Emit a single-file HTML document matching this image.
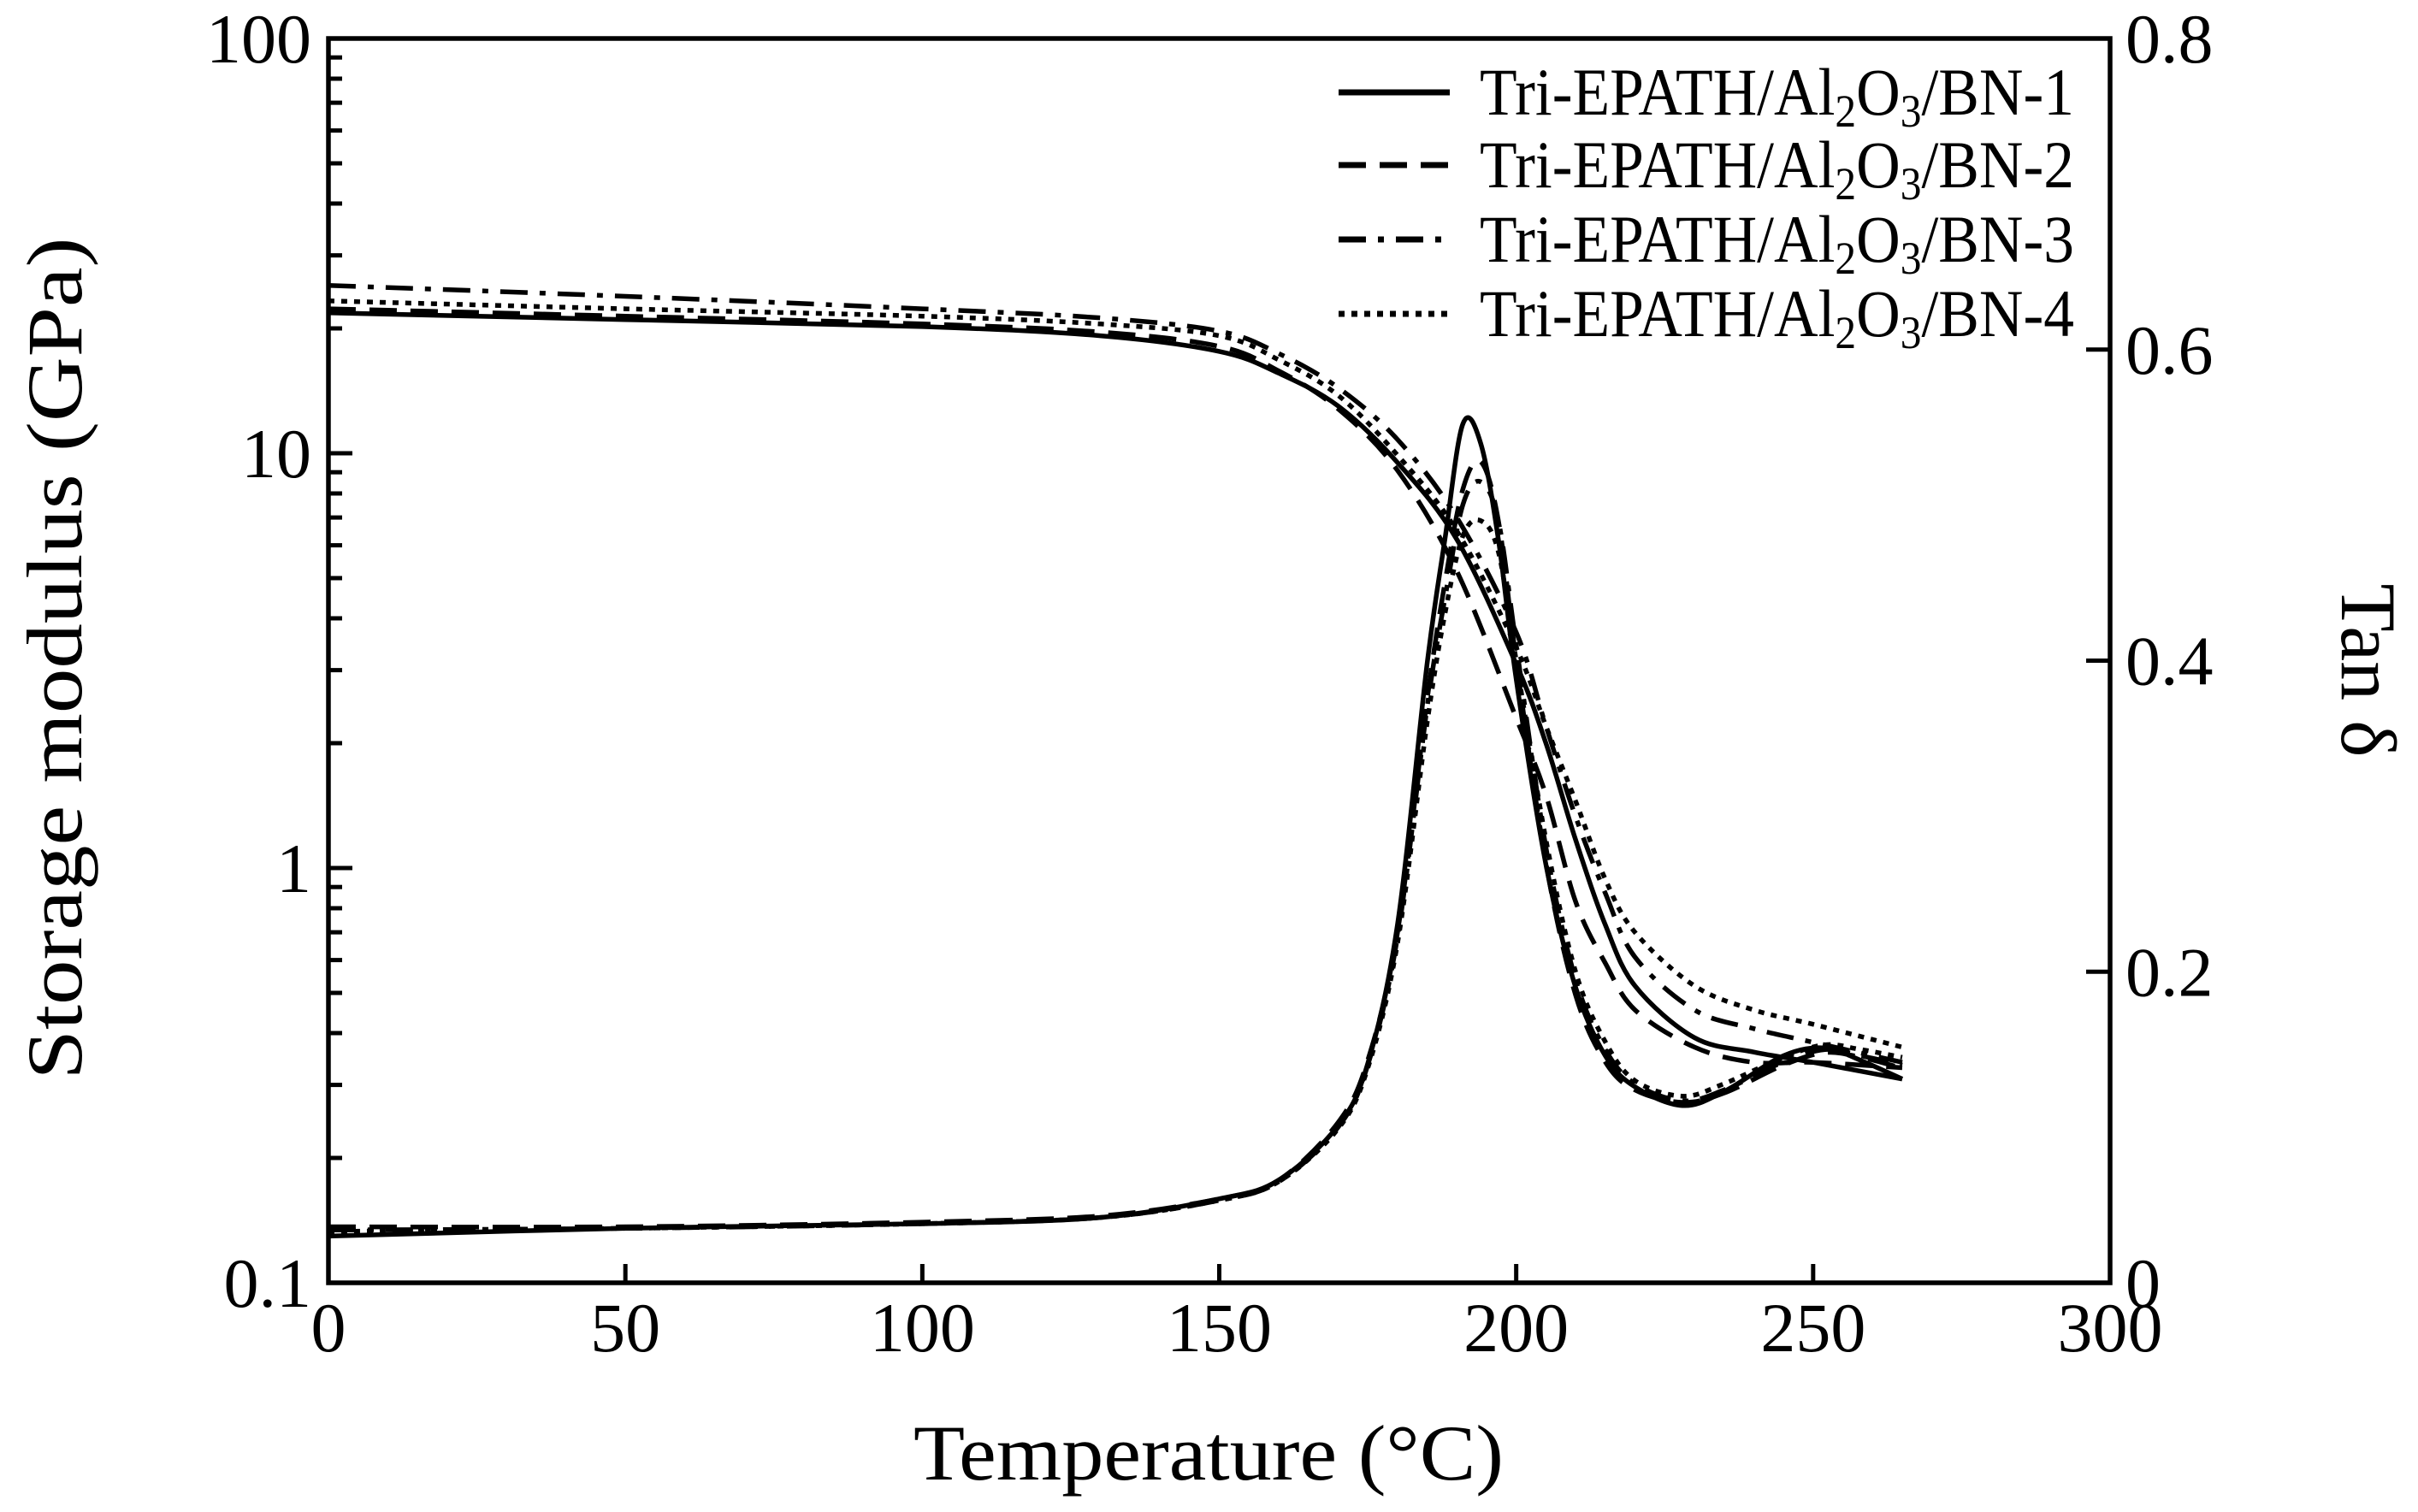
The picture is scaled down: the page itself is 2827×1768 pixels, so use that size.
<!DOCTYPE html>
<html><head><meta charset="utf-8"><style>
html,body{margin:0;padding:0;background:#fff;}
svg{display:block;font-family:"Liberation Serif",serif;}
</style></head><body>
<svg id="chart" width="2827" height="1768" viewBox="0 0 2827 1768" xmlns="http://www.w3.org/2000/svg">
<g id="axes"></g><g id="series"></g><g id="legend"></g>
</svg>
<script>
const xTicks=[0,50,100,150,200,250,300];
const logTicks=[0.1,1,10,100];
const logTickLabels=["0.1","1","10","100"];
const tanTicks=[0,0.2,0.4,0.6,0.8];
const tanTickLabels=["0","0.2","0.4","0.6","0.8"];
const seriesNames=["Tri-EPATH/Al2O3/BN-1","Tri-EPATH/Al2O3/BN-2","Tri-EPATH/Al2O3/BN-3","Tri-EPATH/Al2O3/BN-4"];
const storageTemps=[0,50,100,130,150,160,170,180,190,200,205,210,215,220,230,240,250,265];
const storage1=[21.8,21.0,20.2,19.2,17.6,15.6,13.0,9.5,6.2,3.1,2.0,1.17,0.73,0.52,0.39,0.36,0.34,0.31];
const storage2=[22.3,21.4,20.5,19.6,18.1,15.8,12.8,9.1,5.2,2.3,1.5,0.83,0.59,0.455,0.37,0.34,0.34,0.33];
const storage3=[25.4,23.9,22.3,21.2,19.7,17.4,14.4,10.8,7.0,3.7,2.2,1.33,0.87,0.61,0.455,0.41,0.38,0.34];
const storage4=[23.3,22.3,21.4,20.5,19.2,16.8,13.8,9.9,6.5,3.4,2.2,1.45,0.94,0.70,0.52,0.455,0.42,0.37];
const tanTemps=[0,50,100,130,150,160,170,175,180,185,188,191,194,197,200,205,210,215,220,228,235,245,252,258,265];
const tan1=[.030,.035,.038,.042,.054,.066,.101,.141,.230,.398,.478,.552,.540,.478,.388,.269,.190,.146,.126,.114,.123,.146,.151,.143,.131];
const tan2=[.036,.036,.039,.043,.054,.066,.103,.143,.225,.375,.45,.51,.528,.49,.40,.27,.185,.142,.124,.116,.122,.140,.148,.145,.138];
const tan3=[.034,.035,.038,.042,.053,.065,.100,.140,.222,.37,.44,.50,.515,.49,.41,.28,.195,.15,.128,.117,.124,.142,.150,.146,.140];
const tan4=[.033,.035,.038,.042,.053,.065,.099,.138,.218,.36,.43,.48,.49,.47,.40,.285,.20,.155,.13,.12,.128,.145,.153,.150,.145];

const L=384,R=2467,T=45,B=1500;
const NS="http://www.w3.org/2000/svg";
function xS(v){return L+(v-0)/300*(R-L);}
function yLog(v){return B-(Math.log10(v)+1)/3*(B-T);}
function yTan(v){return B-v/0.8*(B-T);}
function mk(tag,attrs,parent){const e=document.createElementNS(NS,tag);for(const k in attrs)e.setAttribute(k,attrs[k]);parent.appendChild(e);return e;}
const axes=document.getElementById('axes');
const frame=mk('rect',{x:L,y:T,width:R-L,height:B-T,fill:'none',stroke:'#000','stroke-width':5.5},axes);


xTicks.forEach((t,i)=>{
  const ln=mk('line',{x1:xS(t),x2:xS(t),y1:B,y2:B-22,stroke:'#000','stroke-width':5},axes);
  
  
  const tx=mk('text',{x:xS(t),y:B+80,'font-size':82,'text-anchor':'middle'},axes);
  tx.textContent=String(t);
  
  
});
for(let d=-1;d<2;d++){for(let m=1;m<10;m++){const v=m*Math.pow(10,d);
  const ln=mk('line',{x1:L,x2:L+(m==1?28:16),y1:yLog(v),y2:yLog(v),stroke:'#000','stroke-width':5},axes);
  
  }}
logTicks.forEach((t,i)=>{
  const tx=mk('text',{x:L-20,y:yLog(t)+28,'font-size':82,'text-anchor':'end'},axes);
  tx.textContent=logTickLabels[i];
  
  
});
tanTicks.forEach((t,i)=>{
  const ln=mk('line',{x1:R,x2:R-28,y1:yTan(t),y2:yTan(t),stroke:'#000','stroke-width':5},axes);
  
  
  const tx=mk('text',{x:R+18,y:yTan(t)+28,'font-size':82,'text-anchor':'start'},axes);
  tx.textContent=tanTickLabels[i];
  
  
});
const xt=mk('text',{x:1413,y:1730,'font-size':92,'text-anchor':'middle',textLength:690,lengthAdjust:'spacingAndGlyphs'},axes);
xt.textContent="Temperature (°C)";


const yt=mk('text',{x:0,y:0,'font-size':92,'text-anchor':'middle',transform:'translate(95,770) rotate(-90)',textLength:985,lengthAdjust:'spacingAndGlyphs'},axes);
yt.textContent="Storage modulus (GPa)";


const yt2=mk('text',{x:0,y:0,'font-size':92,'text-anchor':'middle',transform:'translate(2738,784) rotate(90)'},axes);
yt2.textContent="Tan δ";



const dashes=['none','32 16','32 14 7 14','7 8'];
function pathD(xs,ys,yf){
  const p=xs.map((x,i)=>[xS(x),yf(ys[i])]);
  let d='M'+p[0][0].toFixed(1)+','+p[0][1].toFixed(1);
  for(let i=0;i<p.length-1;i++){
    const p0=p[Math.max(0,i-1)],p1=p[i],p2=p[i+1],p3=p[Math.min(p.length-1,i+2)];
    const c1=[p1[0]+(p2[0]-p0[0])/6,p1[1]+(p2[1]-p0[1])/6];
    const c2=[p2[0]-(p3[0]-p1[0])/6,p2[1]-(p3[1]-p1[1])/6];
    d+=' C'+c1.map(v=>v.toFixed(1)).join(',')+' '+c2.map(v=>v.toFixed(1)).join(',')+' '+p2[0].toFixed(1)+','+p2[1].toFixed(1);
  }
  return d;
}
const sg=document.getElementById('series');
const storages=[storage1,storage2,storage3,storage4];
const tans=[tan1,tan2,tan3,tan4];
storages.forEach((s,i)=>{
  const p=mk('path',{d:pathD(storageTemps,s,yLog),fill:'none',stroke:'#000','stroke-width':5.5,'stroke-dasharray':dashes[i]},sg);
  
  
});
tans.forEach((s,i)=>{
  const p=mk('path',{d:pathD(tanTemps,s,yTan),fill:'none',stroke:'#000','stroke-width':5.5,'stroke-dasharray':dashes[i]},sg);
  
  
});
const lg=document.getElementById('legend');
const rowsY=[108,193,280,367];
seriesNames.forEach((n,i)=>{
  const g=mk('g',{},lg);
  
  
  const ln=mk('line',{x1:1565,x2:1695,y1:rowsY[i],y2:rowsY[i],stroke:'#000','stroke-width':7,'stroke-dasharray':dashes[i]},g);
  
  
  const tx=mk('text',{x:1730,y:rowsY[i]+26,'font-size':78,textLength:695,lengthAdjust:'spacingAndGlyphs'},g);
  
  
  const parts=n.split('Al2O3');
  tx.appendChild(document.createTextNode(parts[0]+'Al'));
  const s1=mk('tspan',{'font-size':54,dy:14},tx);s1.textContent='2';
  const s2=mk('tspan',{dy:-14},tx);s2.textContent='O';
  const s3=mk('tspan',{'font-size':54,dy:14},tx);s3.textContent='3';
  const s4=mk('tspan',{dy:-14},tx);s4.textContent=parts[1];
});
</script>
</body></html>
